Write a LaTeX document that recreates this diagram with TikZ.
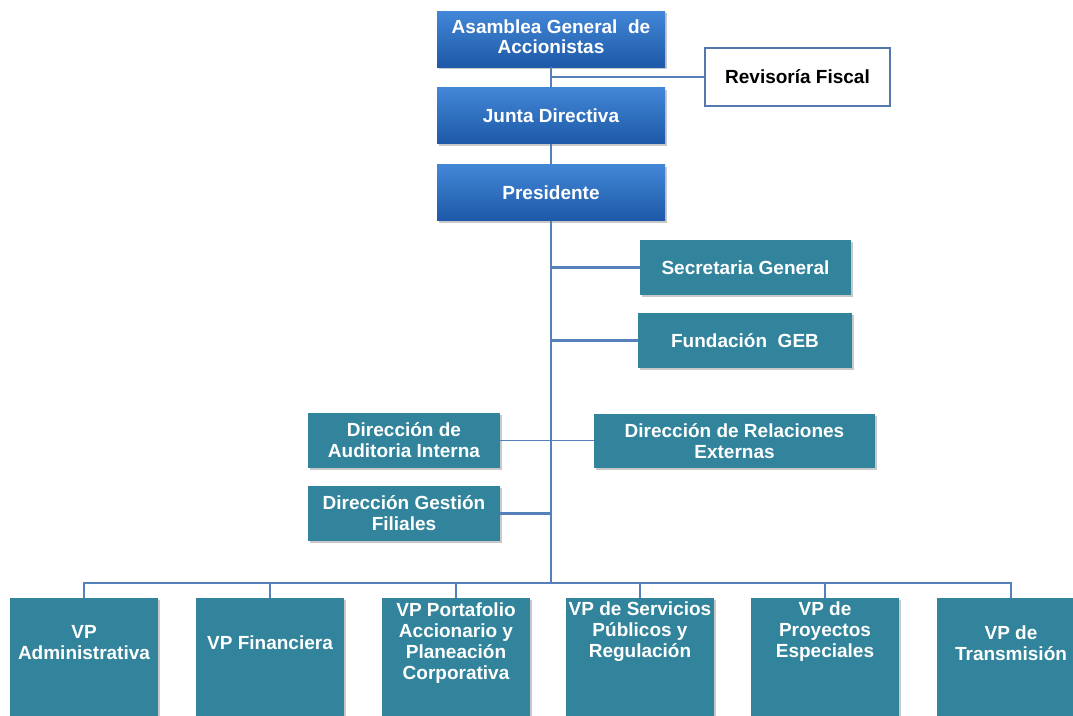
\documentclass[tikz,border=0pt]{standalone}
\usepackage{fontspec}
\setmainfont{Liberation Sans}
\usetikzlibrary{shadows}

\definecolor{topblueA}{HTML}{4287D6}
\definecolor{topblueB}{HTML}{1D59A8}
\definecolor{boxteal}{HTML}{31849B}
\definecolor{linkblue}{HTML}{5580BC}
\definecolor{revframe}{HTML}{5478AE}

\tikzset{
  boxtext/.style={font=\bfseries\fontsize{19}{21}\selectfont, align=center},
  softshadow/.style={drop shadow={shadow xshift=1.5pt, shadow yshift=-2pt, opacity=0.3, fill=black!70}},
  topbox/.style={boxtext, text=white, top color=topblueA, bottom color=topblueB,
    draw=none, inner sep=0pt, minimum width=228pt, minimum height=56pt, softshadow},
  tealbox/.style={boxtext, text=white, fill=boxteal, draw=none, inner sep=0pt,
    minimum height=55pt, softshadow},
  revbox/.style={boxtext, text=black, fill=white, draw=revframe, line width=1.5pt,
    inner sep=0pt, minimum width=185pt, minimum height=58pt},
  vpbox/.style={fill=boxteal, draw=none, inner sep=0pt, minimum width=148pt,
    minimum height=130pt, anchor=north},
  vptext/.style={boxtext, text=white, inner sep=0pt},
  link/.style={draw=linkblue, line width=2.2pt},
  thinlink/.style={draw=linkblue, line width=1.3pt}
}

\begin{document}
\begin{tikzpicture}[x=1pt, y=-1pt]
  \useasboundingbox (0,0) rectangle (1073,715);
  \clip (0,0) rectangle (1073,715);
  \fill[white] (0,0) rectangle (1073,715);

  % upper chain of command
  \node[topbox] (asamblea) at (551,39) {\raisebox{3pt}{\begin{tabular}{@{}c@{}}Asamblea General\ \ de\\[-1pt]Accionistas\end{tabular}}};
  \node[topbox] (junta) at (551,115.5) {Junta Directiva};
  \node[topbox] (pres) at (551,192.5) {Presidente};
  \node[revbox] (rev) at (797.5,77) {Revisoría Fiscal};

  % staff units
  \node[tealbox, minimum width=211pt] (secre) at (745.5,267.5) {Secretaria General};
  \node[tealbox, minimum width=214pt] (fund) at (745,340.5) {Fundación\ \ GEB};
  \node[tealbox, minimum width=192pt] (audit) at (404,440.5) {Dirección de\\Auditoria Interna};
  \node[tealbox, minimum width=281pt, minimum height=54pt] (relac) at (734.5,441) {Dirección de Relaciones\\Externas};
  \node[tealbox, minimum width=192pt] (filial) at (404,513.5) {Dirección Gestión\\Filiales};

  % vice-presidencies
  \node[vpbox, softshadow] (vp1) at (84,598) {};
  \node[vpbox, softshadow] (vp2) at (270,598) {};
  \node[vpbox, softshadow] (vp3) at (456,598) {};
  \node[vpbox, softshadow] (vp4) at (640,598) {};
  \node[vpbox, softshadow] (vp5) at (825,598) {};
  \node[vpbox, softshadow] (vp6) at (1011,598) {};

  \node[vptext] (vp1t) at (84,643) {VP\\Administrativa};
  \node[vptext] (vp2t) at (270,643) {VP Financiera};
  \node[vptext] (vp3t) at (456,643) {VP Portafolio\\Accionario y\\Planeación\\Corporativa};
  \node[vptext] (vp4t) at (640,632) {VP de Servicios\\Públicos y\\Regulación};
  \node[vptext] (vp5t) at (825,632) {VP de\\Proyectos\\Especiales};
  \node[vptext] (vp6t) at (1011,643) {VP de\\Transmisión};

  % connectors
  \coordinate (revjoin) at (551,77);
  \coordinate (bus) at (551,583);
  \draw[link] (asamblea.south) -- (junta.north);
  \draw[link] (revjoin) -- (rev.west);
  \draw[link] (junta.south) -- (pres.north);
  \draw[link] (pres.south) -- (bus);
  \draw[link] (secre.west) -- (secre.west -| pres.south);
  \draw[link] (fund.west) -- (fund.west -| pres.south);
  \draw[thinlink] (audit.east) -- (relac.west |- audit.east);
  \draw[link] (filial.east) -- (filial.east -| pres.south);
  \draw[link] (vp1.north) -- (vp1.north |- bus) -- (vp6.north |- bus) -- (vp6.north);
  \foreach \v in {vp2,vp3,vp4,vp5} {
    \draw[link] (\v.north) -- (\v.north |- bus);
  }
\end{tikzpicture}
\end{document}
